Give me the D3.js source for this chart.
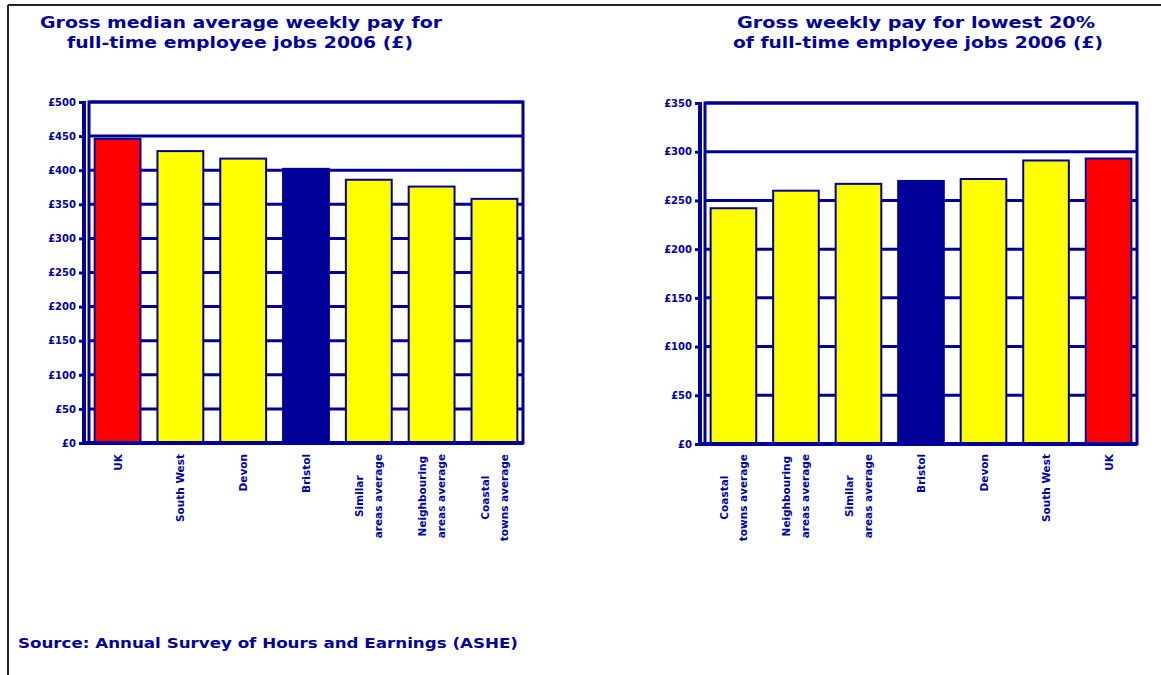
<!DOCTYPE html>
<html>
<head>
<meta charset="utf-8">
<script src="https://cdn.jsdelivr.net/npm/d3@7"></script>
<style>
  html, body { margin: 0; padding: 0; background: #ffffff; }
  svg { display: block; }
  text { font-family: "DejaVu Sans", Verdana, sans-serif; font-weight: bold; fill: #000099; }
</style>
</head>
<body>
<svg id="chart" width="1161" height="675"></svg>
<script>
// Category labels (each entry is a list of label lines)
const catUK = ["UK"];
const catRegion = ["South West"];
const catCounty = ["Devon"];
const catLocal = ["Bristol"];
const catSimilar = ["Similar", "areas average"];
const catNeighbour = ["Neighbouring", "areas average"];
const catCoastal = ["Coastal", "towns average"];

// Gross median weekly pay, full-time employee jobs 2006 (£)
const medianCategories = [catUK, catRegion, catCounty, catLocal, catSimilar, catNeighbour, catCoastal];
const medianPay = [446, 428, 417, 402, 386, 376, 358];
const medianTicks = [0, 50, 100, 150, 200, 250, 300, 350, 400, 450, 500];

// Gross weekly pay for lowest 20% of full-time employee jobs 2006 (£)
const lowestCategories = [catCoastal, catNeighbour, catSimilar, catLocal, catCounty, catRegion, catUK];
const lowest20Pay = [242, 260, 267, 270, 272, 291, 293];
const lowestTicks = [0, 50, 100, 150, 200, 250, 300, 350];

const leftTitle = ["Gross median average weekly pay for", "full-time employee jobs 2006 (£)"];
const rightTitle = ["Gross weekly pay for lowest 20%", "of full-time employee jobs 2006 (£)"];
const sourceNote = "Source: Annual Survey of Hours and Earnings (ASHE)";

const NAVY = "#000099";
const RED = "#ff0000";
const YELLOW = "#ffff00";

const svg = d3.select("#chart");

// page frame: top and left rules
svg.append("line").attr("x1", 8).attr("x2", 1161).attr("y1", 5).attr("y2", 5)
  .attr("stroke", "#222").attr("stroke-width", 2);
svg.append("line").attr("x1", 8).attr("x2", 8).attr("y1", 5).attr("y2", 675)
  .attr("stroke", "#222").attr("stroke-width", 2);

function barColour(cat) {
  if (cat === catUK) return RED;
  if (cat === catLocal) return NAVY;
  return YELLOW;
}

function drawChart(cfg) {
  const g = svg.append("g");
  const x = d3.scaleBand()
    .domain(d3.range(cfg.categories.length))
    .range([cfg.left, cfg.right])
    .paddingInner(0.27)
    .paddingOuter(0.09);
  const y = d3.scaleLinear()
    .domain([0, d3.max(cfg.ticks)])
    .range([cfg.bottom, cfg.top]);

  // title
  cfg.title.forEach((line, i) => {
    g.append("text")
      .attr("x", cfg.titleX[i][0])
      .attr("y", cfg.titleY[i])
      .attr("font-size", 15)
      .attr("textLength", cfg.titleX[i][1] - cfg.titleX[i][0])
      .attr("lengthAdjust", "spacingAndGlyphs")
      .text(line);
  });

  // horizontal gridlines
  g.selectAll("line.grid").data(cfg.ticks).enter().append("line")
    .attr("class", "grid")
    .attr("x1", cfg.left).attr("x2", cfg.right)
    .attr("y1", d => y(d)).attr("y2", d => y(d))
    .attr("stroke", NAVY).attr("stroke-width", 3);

  // bars
  g.selectAll("rect.bar").data(cfg.values).enter().append("rect")
    .attr("class", "bar")
    .attr("x", (d, i) => x(i))
    .attr("width", x.bandwidth())
    .attr("y", d => y(d))
    .attr("height", d => y(0) - y(d))
    .attr("fill", (d, i) => barColour(cfg.categories[i]))
    .attr("stroke", NAVY).attr("stroke-width", 2);

  // plot frame
  g.append("rect")
    .attr("x", cfg.left).attr("y", cfg.top)
    .attr("width", cfg.right - cfg.left).attr("height", cfg.bottom - cfg.top)
    .attr("fill", "none").attr("stroke", NAVY).attr("stroke-width", 3);

  // value axis
  const axis = d3.axisLeft(y)
    .tickValues(cfg.ticks)
    .tickSize(5)
    .tickPadding(3)
    .tickFormat(d => "£" + d);
  const ag = g.append("g")
    .attr("transform", `translate(${cfg.left - 5},0)`)
    .call(axis);
  ag.select(".domain").attr("stroke", NAVY).attr("stroke-width", 4)
    .attr("d", `M0,${cfg.top - 1}V${cfg.bottom + 1}`);
  ag.selectAll(".tick line").attr("stroke", NAVY).attr("stroke-width", 3);
  ag.selectAll(".tick text")
    .attr("font-size", 10)
    .attr("font-family", "DejaVu Sans, sans-serif")
    .attr("font-weight", "bold")
    .attr("fill", NAVY);
  // join the axis to the bottom of the frame
  g.append("line")
    .attr("x1", cfg.left - 7).attr("x2", cfg.right)
    .attr("y1", cfg.bottom).attr("y2", cfg.bottom)
    .attr("stroke", NAVY).attr("stroke-width", 4);

  // rotated category labels, reading upwards, centred lines
  const lineGap = 19;
  cfg.categories.forEach((lines, i) => {
    const cx = x(i) + x.bandwidth() / 2;
    const lg = g.append("g")
      .attr("transform", `translate(${cx},${cfg.labelTop}) rotate(-90)`);
    const texts = lines.map((ln, j) => lg.append("text")
      .attr("font-size", 10.5)
      .attr("text-anchor", "middle")
      .attr("dominant-baseline", "central")
      .attr("y", (j - (lines.length - 1) / 2) * lineGap)
      .text(ln));
    const maxLen = d3.max(texts, t => t.node().getComputedTextLength());
    texts.forEach(t => t.attr("x", -maxLen / 2));
  });
}

drawChart({
  categories: medianCategories,
  values: medianPay,
  ticks: medianTicks,
  left: 89, right: 523, top: 102, bottom: 443,
  labelTop: 454,
  title: leftTitle,
  titleX: [[40, 442], [67, 413]],
  titleY: [28, 48]
});

drawChart({
  categories: lowestCategories,
  values: lowest20Pay,
  ticks: lowestTicks,
  left: 705, right: 1137, top: 103, bottom: 444,
  labelTop: 454,
  title: rightTitle,
  titleX: [[737, 1095], [733, 1103]],
  titleY: [28, 48]
});

svg.append("text")
  .attr("x", 18).attr("y", 648)
  .attr("font-size", 14)
  .attr("textLength", 500)
  .attr("lengthAdjust", "spacingAndGlyphs")
  .text(sourceNote);
</script>
</body>
</html>
